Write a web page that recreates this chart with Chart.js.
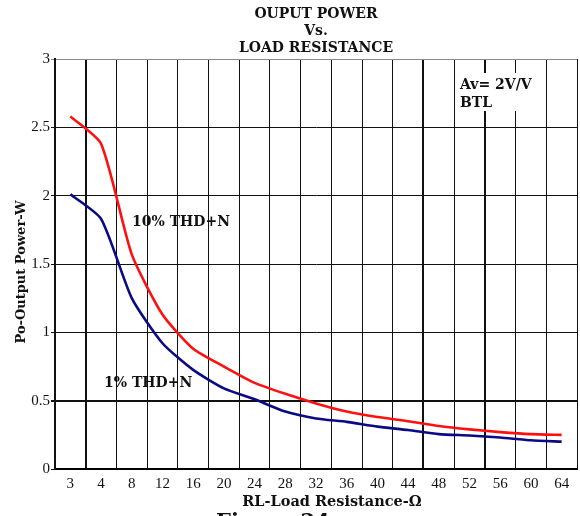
<!DOCTYPE html>
<html lang="en">

<head>
    <meta charset="UTF-8">
    <title>Output Power vs Load Resistance</title>
    <script src="https://cdn.jsdelivr.net/npm/chart.js"></script>
    <style>
        body { margin: 0; background: #fff; }
        .chart-container { position: relative; width: 580px; height: 516px; }
    </style>
</head>

<body>
    <div class="chart-container">
        <canvas id="myChart"></canvas>
    </div>

    <script>
        // load resistance (ohm), one column per value
        const resistance = ['3', '4', '8', '12', '16', '20', '24', '28', '32', '36', '40', '44', '48', '52', '56', '60', '64'];
        // output power (W)
        const thd10 = [2.58, 2.38, 1.57, 1.13, 0.88, 0.75, 0.63, 0.55, 0.48, 0.42, 0.38, 0.35, 0.315, 0.29, 0.27, 0.255, 0.25];
        const thd1 = [2.01, 1.83, 1.25, 0.92, 0.725, 0.59, 0.51, 0.42, 0.37, 0.345, 0.31, 0.285, 0.255, 0.245, 0.23, 0.21, 0.20];
        const powerTicks = [0, 0.5, 1, 1.5, 2, 2.5, 3];

        const boldSerif = '"DejaVu Serif", serif';

        // labels drawn inside the plot + axis names + caption
        const notes = {
            id: 'notes',
            afterDraw(chart) {
                const ctx = chart.ctx;
                ctx.save();
                ctx.fillStyle = '#fff';
                ctx.fillRect(458, 73, 86, 38);

                ctx.fillStyle = '#111';
                ctx.textBaseline = 'middle';
                ctx.textAlign = 'left';
                ctx.font = 'bold 14px ' + boldSerif;
                ctx.fillText('Av= 2V/V', 460, 85);
                ctx.fillText('BTL', 460, 103);
                ctx.fillText('10% THD+N', 132, 222);
                ctx.fillText('1% THD+N', 104, 383);

                ctx.textAlign = 'center';
                ctx.font = 'bold 14.5px ' + boldSerif;
                ctx.fillText('RL-Load Resistance-Ω', 332, 502);

                ctx.save();
                ctx.translate(22, 272);
                ctx.rotate(-Math.PI / 2);
                ctx.font = 'bold 13px ' + boldSerif;
                ctx.fillText('Po-Output Power-W', 0, 0);
                ctx.restore();

                // figure caption, cut by the bottom edge
                ctx.textAlign = 'left';
                ctx.textBaseline = 'alphabetic';
                ctx.font = 'bold 21px ' + boldSerif;
                ctx.fillText('Figure 24', 216, 528);
                ctx.restore();
            }
        };

        const thickX = [1, 12, 14];

        const ctx = document.getElementById('myChart').getContext('2d');
        new Chart(ctx, {
            type: 'line',
            data: {
                labels: resistance,
                datasets: [
                    {
                        label: '10% THD+N',
                        data: thd10,
                        borderColor: '#ff1010',
                        borderWidth: 2.6,
                        pointRadius: 0,
                        tension: 0.2
                    },
                    {
                        label: '1% THD+N',
                        data: thd1,
                        borderColor: '#0a0a84',
                        borderWidth: 2.6,
                        pointRadius: 0,
                        tension: 0.2
                    }
                ]
            },
            options: {
                responsive: true,
                maintainAspectRatio: false,
                animation: false,
                layout: { padding: { left: 0, right: 3, top: 0, bottom: 0 } },
                plugins: {
                    legend: { display: false },
                    tooltip: { enabled: false },
                    title: {
                        display: true,
                        fullSize: false,
                        text: ['OUPUT POWER', 'Vs.', 'LOAD RESISTANCE'],
                        color: '#111',
                        font: { family: boldSerif, size: 14, weight: 'bold', lineHeight: 1.2 },
                        padding: { top: 6, bottom: 2.6 }
                    }
                },
                scales: {
                    x: {
                        type: 'category',
                        offset: true,
                        grid: {
                            offset: true,
                            drawTicks: false,
                            color: (c) => c.index === resistance.length ? '#8a8a8a' : '#111',
                            lineWidth: (c) => thickX.includes(c.index) ? 2 : 1
                        },
                        border: { color: '#000', width: 2 },
                        ticks: {
                            autoSkip: false,
                            maxRotation: 0,
                            padding: 6,
                            color: '#111',
                            font: { family: '"Liberation Serif", serif', size: 15 }
                        },
                        afterFit: (scale) => { scale.height = 47; }
                    },
                    y: {
                        min: powerTicks[0],
                        max: powerTicks[powerTicks.length - 1],
                        afterBuildTicks: (scale) => {
                            scale.ticks = powerTicks.map(v => ({ value: v }));
                        },
                        grid: {
                            drawTicks: true,
                            tickLength: 4,
                            color: (c) => c.index === powerTicks.length - 1 ? '#8a8a8a' : '#111',
                            lineWidth: (c) => c.index === 1 ? 2 : 1
                        },
                        border: { color: '#111', width: 2 },
                        ticks: {
                            padding: 1,
                            color: '#111',
                            font: { family: '"Liberation Serif", serif', size: 15 },
                            callback: (v) => String(v)
                        },
                        afterFit: (scale) => { scale.width = 55; }
                    }
                }
            },
            plugins: [notes]
        });
    </script>
</body>

</html>
